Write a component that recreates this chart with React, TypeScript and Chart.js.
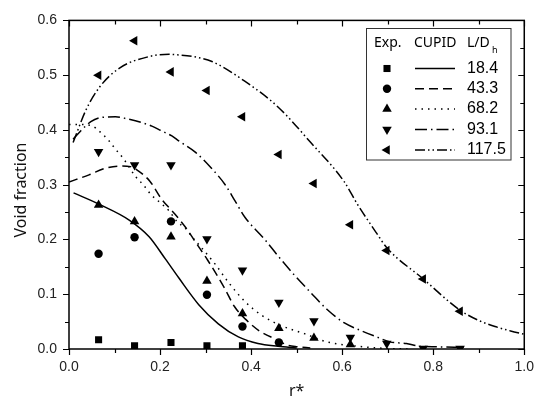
import React, { useEffect, useRef } from 'react';
import { Chart, registerables } from 'chart.js';

Chart.register(...registerables);

// Experimental radial positions (r*)
const expX = [0.065, 0.144, 0.224, 0.303, 0.381, 0.461, 0.538, 0.618, 0.698, 0.778, 0.859];
// Experimental void fractions
const exp184 = [0.017, 0.006, 0.012, 0.006, 0.006];
const exp433 = [0.174, 0.204, 0.233, 0.099, 0.041, 0.012];
const exp682 = [0.263, 0.233, 0.205, 0.124, 0.065, 0.038, 0.020, 0.008];
const exp931 = [0.360, 0.336, 0.336, 0.201, 0.144, 0.085, 0.051, 0.021, 0.010, 0.001, 0.001];
const exp1175 = [0.500, 0.563, 0.506, 0.472, 0.424, 0.355, 0.302, 0.227, 0.180, 0.128, 0.069];

// CUPID predictions
const cupid184X = [0.01, 0.067, 0.133, 0.176, 0.212, 0.241, 0.285, 0.328, 0.372, 0.415, 0.459, 0.50];
const cupid184Y = [0.285, 0.264, 0.235, 0.205, 0.164, 0.130, 0.081, 0.046, 0.022, 0.010, 0.005, 0.002];

const cupid433X = [0, 0.044, 0.080, 0.113, 0.135, 0.149, 0.178, 0.204, 0.232, 0.258, 0.278, 0.304, 0.341, 0.363, 0.387, 0.42, 0.459, 0.48, 0.502, 0.53];
const cupid433Y = [0.305, 0.318, 0.330, 0.334, 0.333, 0.327, 0.306, 0.273, 0.247, 0.220, 0.195, 0.163, 0.112, 0.078, 0.055, 0.032, 0.016, 0.007, 0.004, 0.002];

const cupid682X = [0, 0.022, 0.052, 0.066, 0.088, 0.102, 0.120, 0.146, 0.163, 0.180, 0.202, 0.220, 0.238, 0.256, 0.270, 0.288, 0.321, 0.35, 0.386, 0.426, 0.465, 0.517, 0.567, 0.647, 0.70, 0.75];
const cupid682Y = [0.410, 0.410, 0.407, 0.398, 0.380, 0.365, 0.347, 0.315, 0.300, 0.282, 0.266, 0.252, 0.232, 0.220, 0.205, 0.188, 0.155, 0.122, 0.087, 0.060, 0.043, 0.028, 0.013, 0.004, 0.001, 0.0];

const cupid931X = [0.009, 0.022, 0.048, 0.073, 0.102, 0.124, 0.182, 0.204, 0.226, 0.241, 0.278, 0.313, 0.343, 0.365, 0.386, 0.430, 0.459, 0.495, 0.531, 0.567, 0.604, 0.64, 0.676, 0.705, 0.741, 0.770, 0.807, 0.872];
const cupid931Y = [0.383, 0.395, 0.415, 0.423, 0.424, 0.421, 0.407, 0.398, 0.389, 0.380, 0.359, 0.330, 0.300, 0.270, 0.241, 0.200, 0.170, 0.135, 0.103, 0.072, 0.048, 0.034, 0.022, 0.013, 0.010, 0.005, 0.004, 0.003];

const cupid1175X = [0.009, 0.037, 0.067, 0.111, 0.176, 0.220, 0.241, 0.285, 0.314, 0.386, 0.459, 0.531, 0.604, 0.633, 0.676, 0.698, 0.778, 0.857, 0.90, 0.94, 0.97, 1.0];
const cupid1175Y = [0.377, 0.436, 0.478, 0.513, 0.534, 0.538, 0.537, 0.532, 0.525, 0.489, 0.442, 0.377, 0.306, 0.265, 0.211, 0.185, 0.128, 0.072, 0.052, 0.040, 0.033, 0.027];

const legendLabels = ['18.4', '43.3', '68.2', '93.1', '117.5'];
const xTickValues = [0, 0.1, 0.2, 0.3, 0.4, 0.5, 0.6, 0.7, 0.8, 0.9, 1.0];
const yTickValues = [0, 0.05, 0.1, 0.15, 0.2, 0.25, 0.3, 0.35, 0.4, 0.45, 0.5, 0.55, 0.6];

const pts = (xs: number[], ys: number[]) => ys.map((y, i) => ({ x: xs[i], y }));

const markerStyles = [
  { pointStyle: 'rect', radius: 5, rotation: 0 },
  { pointStyle: 'circle', radius: 4.2, rotation: 0 },
  { pointStyle: 'triangle', radius: 5.5, rotation: 0 },
  { pointStyle: 'triangle', radius: 5.5, rotation: 180 },
  { pointStyle: 'triangle', radius: 5.5, rotation: 270 },
];
const dashes = [[], [9, 5], [1.5, 5], [12, 4, 1.5, 4], [10, 3, 1.5, 3, 1.5, 3]];

function drawMarker(ctx: CanvasRenderingContext2D, idx: number, x: number, y: number) {
  const m = markerStyles[idx];
  const r = m.radius;
  ctx.beginPath();
  if (m.pointStyle === 'rect') {
    const s = r * Math.SQRT1_2;
    ctx.rect(x - s, y - s, 2 * s, 2 * s);
  } else if (m.pointStyle === 'circle') {
    ctx.arc(x, y, r, 0, Math.PI * 2);
  } else {
    let rad = (m.rotation * Math.PI) / 180;
    ctx.moveTo(x + Math.sin(rad) * r, y - Math.cos(rad) * r);
    rad += (2 * Math.PI) / 3;
    ctx.lineTo(x + Math.sin(rad) * r, y - Math.cos(rad) * r);
    rad += (2 * Math.PI) / 3;
    ctx.lineTo(x + Math.sin(rad) * r, y - Math.cos(rad) * r);
    ctx.closePath();
  }
  ctx.fill();
}

const framePlugin = {
  id: 'frameAndLegend',
  afterDraw(chart: any) {
    const { ctx, chartArea: a, scales } = chart;
    const xs = scales.x;
    const ys = scales.y;
    ctx.save();
    ctx.strokeStyle = '#000';
    ctx.lineWidth = 1.5;
    ctx.strokeRect(a.left, a.top, a.right - a.left, a.bottom - a.top);
    ctx.lineWidth = 1.2;
    ctx.beginPath();
    xTickValues.forEach((v, i) => {
      const px = Math.round(xs.getPixelForValue(v)) + 0.5;
      const len = i % 2 === 0 ? 6 : 4;
      ctx.moveTo(px, a.bottom);
      ctx.lineTo(px, a.bottom + len);
      ctx.moveTo(px, a.top);
      ctx.lineTo(px, a.top + len);
    });
    yTickValues.forEach((v, i) => {
      const py = Math.round(ys.getPixelForValue(v)) + 0.5;
      const len = i % 2 === 0 ? 6 : 4;
      ctx.moveTo(a.left - len, py);
      ctx.lineTo(a.left, py);
      ctx.moveTo(a.right - len, py);
      ctx.lineTo(a.right, py);
    });
    ctx.stroke();

    // axis titles
    ctx.fillStyle = '#111';
    ctx.font = '16px "Noto Sans"';
    ctx.textAlign = 'center';
    ctx.textBaseline = 'middle';
    ctx.fillText('r*', (a.left + a.right) / 2, 391);
    ctx.save();
    ctx.translate(21, 190);
    ctx.rotate(-Math.PI / 2);
    ctx.fillText('Void fraction', 0, 0);
    ctx.restore();

    // legend box
    const bx = 366.5, by = 28.5, bw = 144.5, bh = 131.5;
    ctx.fillStyle = '#fff';
    ctx.fillRect(bx, by, bw, bh);
    ctx.strokeStyle = '#333';
    ctx.lineWidth = 1;
    ctx.strokeRect(bx, by, bw, bh);

    ctx.fillStyle = '#000';
    ctx.font = '14px "Noto Sans"';
    ctx.textAlign = 'left';
    ctx.textBaseline = 'middle';
    ctx.fillText('Exp.', 374, 43);
    ctx.fillText('CUPID', 414, 43);
    ctx.fillText('L/D', 467, 43);
    ctx.font = '9px "Noto Sans"';
    ctx.fillText('h', 492, 50);

    const rowsY = [68.5, 88.8, 109, 129.5, 150];
    legendLabels.forEach((lab, i) => {
      const yy = rowsY[i];
      ctx.fillStyle = '#000';
      drawMarker(ctx, i, 387, yy);
      ctx.strokeStyle = '#000';
      ctx.lineWidth = 1.5;
      ctx.setLineDash(dashes[i]);
      ctx.beginPath();
      ctx.moveTo(415, yy);
      ctx.lineTo(455, yy);
      ctx.stroke();
      ctx.setLineDash([]);
      ctx.font = '16px "Liberation Sans"';
      ctx.fillText(lab, 467, yy);
    });
    ctx.restore();
  },
};

export default function App() {
  const ref = useRef<HTMLCanvasElement>(null);
  useEffect(() => {
    document.body.style.margin = '0';
    const expSeries = [exp184, exp433, exp682, exp931, exp1175];
    const lineSeries = [
      [cupid184X, cupid184Y],
      [cupid433X, cupid433Y],
      [cupid682X, cupid682Y],
      [cupid931X, cupid931Y],
      [cupid1175X, cupid1175Y],
    ];
    const datasets: any[] = [];
    expSeries.forEach((ys, i) => {
      const m = markerStyles[i];
      datasets.push({
        label: 'exp ' + legendLabels[i],
        data: pts(expX, ys),
        showLine: false,
        pointStyle: m.pointStyle,
        pointRadius: m.radius,
        rotation: m.rotation,
        pointBackgroundColor: '#000',
        pointBorderColor: '#000',
        pointBorderWidth: 0,
        clip: 0,
      });
    });
    lineSeries.forEach(([xs, ys], i) => {
      datasets.push({
        label: 'cupid ' + legendLabels[i],
        data: pts(xs, ys),
        showLine: true,
        pointRadius: 0,
        borderColor: '#000',
        borderWidth: 1.5,
        borderDash: dashes[i],
        cubicInterpolationMode: 'monotone',
        fill: false,
        clip: 0,
      });
    });

    const chart = new Chart(ref.current!, {
      type: 'scatter',
      data: { datasets },
      options: {
        responsive: false,
        animation: false,
        devicePixelRatio: 1,
        layout: { padding: { left: 0, top: 11, right: 15, bottom: 0 } },
        plugins: { legend: { display: false }, tooltip: { enabled: false } },
        scales: {
          x: {
            type: 'linear',
            min: 0,
            max: 1,
            afterFit: (s: any) => { s.height = 52; },
            grid: { display: true, drawOnChartArea: false, drawTicks: false },
            border: { display: false },
            ticks: {
              stepSize: 0.2,
              padding: 10,
              color: '#222',
              font: { family: '"Liberation Sans"', size: 14 },
              callback: (v: any) => Number(v).toFixed(1),
            },
          },
          y: {
            type: 'linear',
            min: 0,
            max: 0.6,
            afterFit: (s: any) => { s.width = 69; },
            grid: { display: true, drawOnChartArea: false, drawTicks: false },
            border: { display: false },
            ticks: {
              stepSize: 0.1,
              padding: 12,
              color: '#222',
              font: { family: '"Liberation Sans"', size: 14 },
              callback: (v: any) => Number(v).toFixed(1),
            },
          },
        },
      },
      plugins: [framePlugin],
    } as any);
    return () => chart.destroy();
  }, []);
  return (
    <canvas
      ref={ref}
      width={544}
      height={401}
      style={{ display: 'block', width: '544px', height: '401px' }}
    />
  );
}
